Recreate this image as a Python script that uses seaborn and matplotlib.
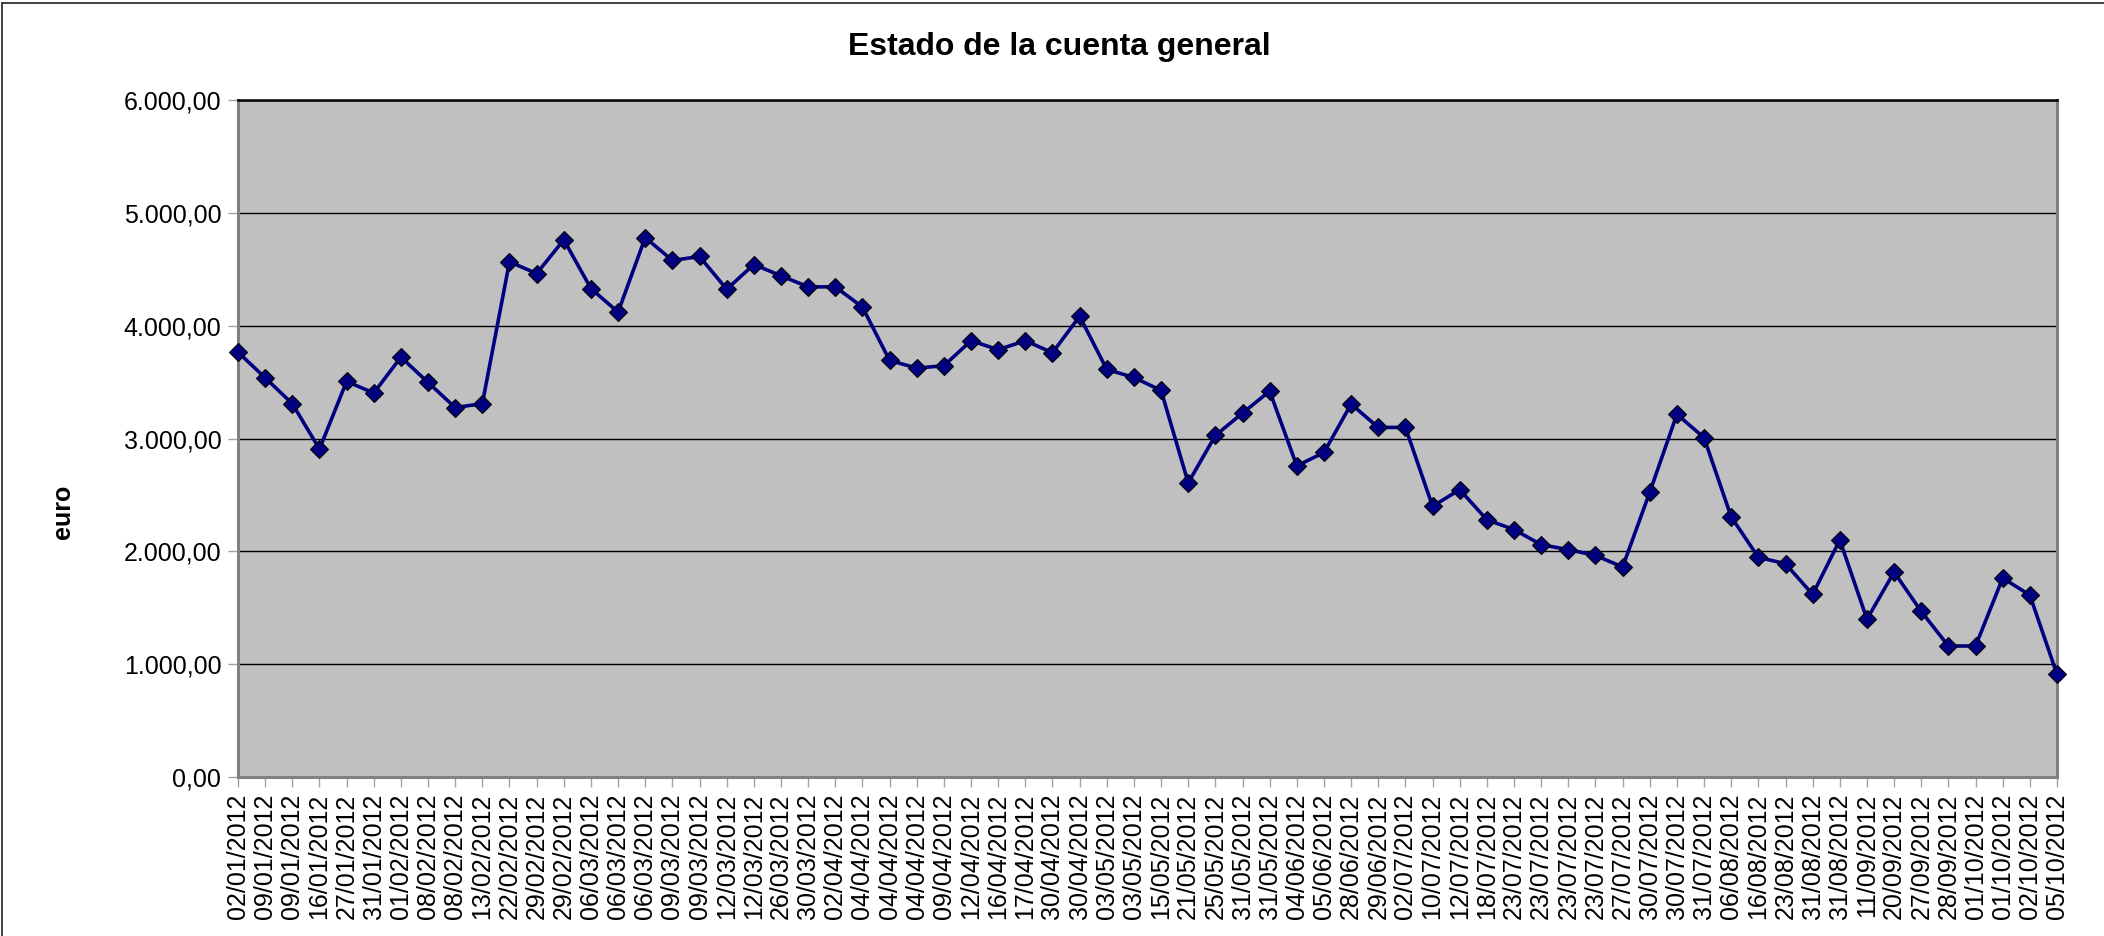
import numpy as np
import pandas as pd
import matplotlib
matplotlib.use("Agg")
import matplotlib.pyplot as plt
import seaborn as sns
from matplotlib.ticker import FuncFormatter

fechas = [
    "02/01/2012", "09/01/2012", "09/01/2012", "16/01/2012", "27/01/2012", "31/01/2012",
    "01/02/2012", "08/02/2012", "08/02/2012", "13/02/2012", "22/02/2012", "29/02/2012",
    "29/02/2012", "06/03/2012", "06/03/2012", "06/03/2012", "09/03/2012", "09/03/2012",
    "12/03/2012", "12/03/2012", "26/03/2012", "30/03/2012", "02/04/2012", "04/04/2012",
    "04/04/2012", "04/04/2012", "09/04/2012", "12/04/2012", "16/04/2012", "17/04/2012",
    "30/04/2012", "30/04/2012", "03/05/2012", "03/05/2012", "15/05/2012", "21/05/2012",
    "25/05/2012", "31/05/2012", "31/05/2012", "04/06/2012", "05/06/2012", "28/06/2012",
    "29/06/2012", "02/07/2012", "10/07/2012", "12/07/2012", "18/07/2012", "23/07/2012",
    "23/07/2012", "23/07/2012", "23/07/2012", "27/07/2012", "30/07/2012", "30/07/2012",
    "31/07/2012", "06/08/2012", "16/08/2012", "23/08/2012", "31/08/2012", "31/08/2012",
    "11/09/2012", "20/09/2012", "27/09/2012", "28/09/2012", "01/10/2012", "01/10/2012",
    "02/10/2012", "05/10/2012",
]

saldo = [
    3765, 3538, 3309, 2906, 3506, 3403, 3721, 3497, 3274, 3309,
    4566, 4462, 4761, 4329, 4120, 4781, 4578, 4613, 4323, 4542,
    4442, 4344, 4344, 4165, 3692, 3624, 3645, 3867, 3787, 3867,
    3760, 4083, 3612, 3541, 3426, 2607, 3027, 3225, 3420, 2757,
    2876, 3305, 3098, 3098, 2399, 2547, 2280, 2193, 2059, 2015,
    1964, 1861, 2524, 3215, 3007, 2305, 1947, 1890, 1618, 2101,
    1399, 1816, 1467, 1161, 1161, 1763, 1612, 910,
]

titulo = "Estado de la cuenta general"
eje_y = "euro"

sns.set_theme(style="white")
plt.rcParams['font.family'] = ['Liberation Sans', 'DejaVu Sans']
plt.rcParams['text.color'] = 'black'
plt.rcParams['xtick.labelcolor'] = 'black'
plt.rcParams['ytick.labelcolor'] = 'black'

df = pd.DataFrame({"pos": np.arange(len(saldo)), "saldo": saldo})

fig = plt.figure(figsize=(21.04, 9.36), dpi=100)
ax = fig.add_axes([238 / 2104, 1 - 777 / 936, (2057 - 238) / 2104, (777 - 100) / 936])
ax.set_facecolor("#C0C0C0")

sns.lineplot(data=df, x="pos", y="saldo", ax=ax, color="#000080", linewidth=2.6,
             marker="D", markersize=9.5, markerfacecolor="#000080",
             markeredgecolor="black", markeredgewidth=0.8, zorder=3)
for ln in ax.lines:
    ln.set_clip_on(False)

ax.set_xlim(0, len(saldo) - 1)
ax.set_ylim(0, 6000)
ax.set_yticks(np.arange(0, 6001, 1000))
ax.yaxis.set_major_formatter(FuncFormatter(
    lambda v, p: f"{v:,.2f}".replace(",", "X").replace(".", ",").replace("X", ".")))
ax.set_xticks(df["pos"])
ax.set_xticklabels(fechas, rotation=90, fontsize=18, color="black")
ax.tick_params(axis="y", labelsize=18, labelcolor="black")
ax.tick_params(axis="both", which="major", direction="out", length=7, width=1,
               color="#A0A0A0", pad=5, left=True, bottom=True)
ax.set_xlabel("")
ax.set_ylabel("")

ax.grid(axis="y", color="black", linewidth=1.0)
ax.grid(axis="x", visible=False)
ax.set_axisbelow(True)

for side in ["left", "bottom", "right"]:
    ax.spines[side].set_visible(True)
    ax.spines[side].set_color("#808080")
    ax.spines[side].set_linewidth(2.2)
ax.spines["top"].set_color("black")
ax.spines["top"].set_linewidth(1.8)

fig.text(1059 / 2104, 1 - 47 / 936, titulo, ha="center", va="center",
         fontsize=23, fontweight="bold", color="black")
fig.text(63 / 2104, 1 - 512 / 936, eje_y, ha="center", va="center",
         rotation=90, fontsize=18, fontweight="bold", color="black")

# outer chart frame (left and top edges visible in the reference)
fig.add_artist(plt.Line2D([2 / 2104, 2 / 2104], [0, 1 - 3 / 936], color="#202020",
                          linewidth=1.2, transform=fig.transFigure))
fig.add_artist(plt.Line2D([2 / 2104, 1], [1 - 3 / 936, 1 - 3 / 936], color="#202020",
                          linewidth=1.2, transform=fig.transFigure))

fig.savefig("out.png", dpi=100)
